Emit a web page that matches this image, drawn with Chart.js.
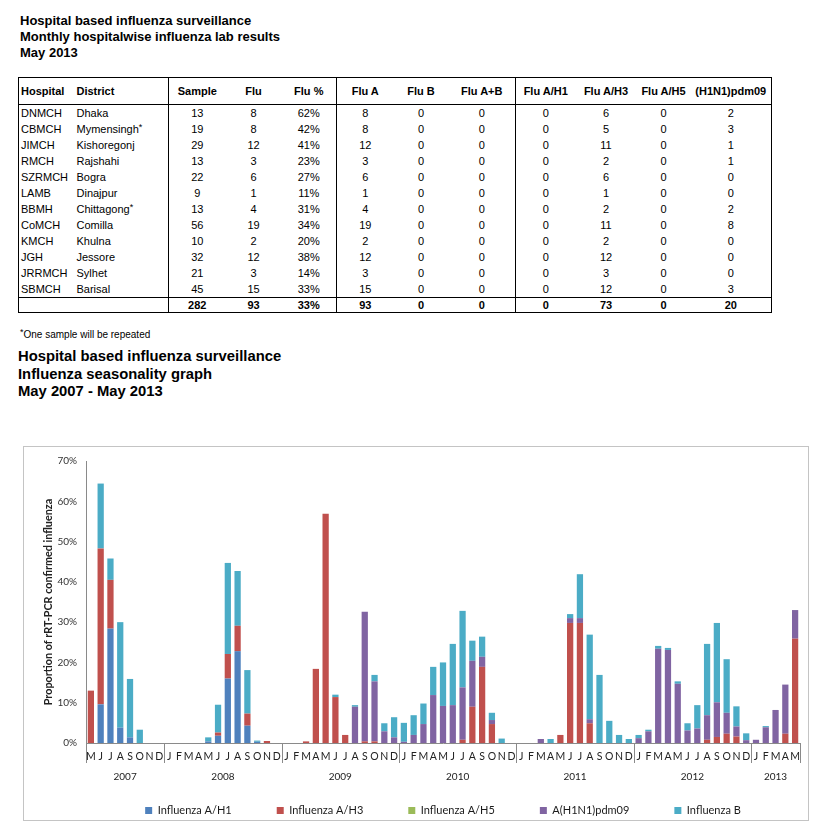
<!DOCTYPE html>
<html>
<head>
<meta charset="utf-8">
<script src="https://cdn.jsdelivr.net/npm/chart.js@4"></script>
<style>
  html, body { margin: 0; padding: 0; background: #fff; }
  body { font-family: "Liberation Sans", Arial, sans-serif; color: #000; }
  .page { position: relative; width: 835px; height: 828px; overflow: hidden; }
  .title1 { position: absolute; left: 20px; top: 12.5px; font-weight: bold; font-size: 13px; line-height: 16px; white-space: nowrap; }
  .title2 { position: absolute; left: 18px; top: 348px; font-weight: bold; font-size: 14.8px; line-height: 17.5px; white-space: nowrap; }
  .note { position: absolute; left: 20px; top: 328px; font-size: 10px; line-height: 14px; white-space: nowrap; }
  .note sup, td sup { font-size: 9px; vertical-align: 3px; line-height: 0; }
  table.res { position: absolute; left: 18px; top: 77px; border-collapse: collapse; table-layout: fixed; width: 753px; font-size: 11px; }
  table.res td, table.res th { padding: 0; white-space: nowrap; overflow: visible; text-align: center; }
  table.res th { font-weight: bold; height: 26px; border-bottom: 1px solid #000; border-top: 1.5px solid #000; }
  table.res tbody td { height: 16px; }
  table.res td.l, table.res th.l { text-align: left; padding-left: 2px; }
  table.res tr.tot td { font-weight: bold; height: 14px; border-top: 1px solid #000; border-bottom: 1px solid #000; }
  table.res .bl { border-left: 1px solid #000; }
  table.res .br { border-right: 1px solid #000; }
  .chartbox { position: absolute; left: 23px; top: 446px; width: 784px; height: 373px; border: 1px solid #c4c4c4; }
  #chart { position: absolute; left: 30px; top: 446px; }
</style>
</head>
<body>
<div class="page">
  <div class="title1">Hospital based influenza surveillance<br>Monthly hospitalwise influenza lab results<br>May 2013</div>
  <table class="res" id="res">
    <colgroup>
      <col style="width:56px"><col style="width:94px"><col style="width:57px"><col style="width:56px"><col style="width:55px"><col style="width:57px"><col style="width:55px"><col style="width:67px"><col style="width:60px"><col style="width:61px"><col style="width:54px"><col style="width:81px">
    </colgroup>
    <thead><tr id="hdr"></tr></thead>
    <tbody id="body"></tbody>
  </table>
  <div class="note"><sup>*</sup>One sample will be repeated</div>
  <div class="title2">Hospital based influenza surveillance<br>Influenza seasonality graph<br>May 2007 - May 2013</div>
  <div class="chartbox"></div>
  <canvas id="chart" width="778" height="380"></canvas>
</div>
<script>
// ---------- Table data ----------
const tableHeaders = ['Hospital','District','Sample','Flu','Flu %','Flu A','Flu B','Flu A+B','Flu A/H1','Flu A/H3','Flu A/H5','(H1N1)pdm09'];
const hospitals = ['DNMCH','CBMCH','JIMCH','RMCH','SZRMCH','LAMB','BBMH','CoMCH','KMCH','JGH','JRRMCH','SBMCH'];
const districts = ['Dhaka','Mymensingh','Kishoregonj','Rajshahi','Bogra','Dinajpur','Chittagong','Comilla','Khulna','Jessore','Sylhet','Barisal'];
const repeatMark = [false,true,false,false,false,false,true,false,false,false,false,false];
const samples = [13,19,29,13,22,9,13,56,10,32,21,45];
const fluCount = [8,8,12,3,6,1,4,19,2,12,3,15];
const fluPct = ['62%','42%','41%','23%','27%','11%','31%','34%','20%','38%','14%','33%'];
const fluA = [8,8,12,3,6,1,4,19,2,12,3,15];
const fluB = [0,0,0,0,0,0,0,0,0,0,0,0];
const fluAB = [0,0,0,0,0,0,0,0,0,0,0,0];
const fluAH1 = [0,0,0,0,0,0,0,0,0,0,0,0];
const fluAH3 = [6,5,11,2,6,1,2,11,2,12,3,12];
const fluAH5 = [0,0,0,0,0,0,0,0,0,0,0,0];
const pdm09 = [2,3,1,1,0,0,2,8,0,0,0,3];
const totals = ['282','93','33%','93','0','0','0','73','0','20'];

// ---------- Chart data (% of samples, May 2007 - May 2013) ----------
const monthLabels = [
  'M','J','J','A','S','O','N','D',
  'J','F','M','A','M','J','J','A','S','O','N','D',
  'J','F','M','A','M','J','J','A','S','O','N','D',
  'J','F','M','A','M','J','J','A','S','O','N','D',
  'J','F','M','A','M','J','J','A','S','O','N','D',
  'J','F','M','A','M','J','J','A','S','O','N','D',
  'J','F','M','A','M'
];
const yearNames = ['2007','2008','2009','2010','2011','2012','2013'];
const yearMonthCounts = [8,12,12,12,12,12,5];
const seriesNames = ['Influenza A/H1','Influenza A/H3','Influenza A/H5','A(H1N1)pdm09','Influenza B'];
const seriesColors = ['#4F81BD','#C0504D','#9BBB59','#8064A2','#4BACC6'];

const fluAH1Pct = [
  0,9.6,28.4,3.8,1.4,0,0,0,
  0,0,0,0,0.4,1.8,16.0,22.8,4.3,0.3,0,0,
  0,0,0,0,0,0,0,0,0,0,0,0,
  0,0,0,0,0,0,0,0,0,0,0,0,
  0,0,0,0,0,0,0,0,0,0,0,0,
  0,0,0,0,0,0,0,0,0,0,0,0,
  0,0,0,0,0
];
const fluAH3Pct = [
  13.0,38.7,12.1,0,0,0,0,0,
  0,0,0,0,0,0.8,6.1,6.3,3.0,0,0.5,0,
  0,0,0.4,18.4,56.9,11.4,2.0,0,0.4,0.4,0,0,
  0,0,0,0,0,0,0.8,9.0,18.9,4.7,0,0,
  0,0,0,0,2.0,29.8,29.8,4.9,0,0,0,0,
  0,0,0,0,0,0,0,0.8,1.5,2.3,1.6,0,
  0,0,0,2.3,25.9
];
const fluAH5Pct = [
  0,0,0,0,0,0,0,0,
  0,0,0,0,0,0,0,0,0,0,0,0,
  0,0,0,0,0,0,0,0,0,0,0,0,
  0,0,0,0,0,0,0,0,0,0,0,0,
  0,0,0,0,0,0,0,0,0,0,0,0,
  0,0,0,0,0,0,0,0,0,0,0,0,
  0,0,0,0,0
];
const pdm09Pct = [
  0,0,0,0,0,0,0,0,
  0,0,0,0,0,0,0,0,0,0,0,0,
  0,0,0,0,0,0,0,9.0,32.2,14.9,2.9,1.4,
  0.3,2.0,4.7,11.9,9.2,9.4,13.0,11.4,2.5,1.0,0,0,
  0,0,1.0,0,0,1.2,1.2,1.0,0,0,0,0,
  1.2,2.9,23.4,23.1,14.7,3.1,3.6,6.1,8.6,5.2,2.5,0.7,
  0.8,3.9,8.2,12.2,7.1
];
const fluBPct = [
  0,16.1,5.3,26.2,14.5,3.3,0,0,
  0,0,0,0,1.0,6.9,22.6,13.6,10.8,0.3,0,0,
  0,0,0,0,0,0.6,0,0.4,0,1.6,2.0,5.0,
  4.7,4.9,5.1,7.0,10.8,15.2,19.0,5.0,5.0,1.8,1.1,0,
  0,0,0,1.0,0,1.0,10.9,21.0,16.9,5.5,2.0,1.0,
  0.8,0.4,0.7,0.5,0.6,1.8,5.8,17.7,19.7,13.3,5.0,1.7,
  0,0.3,0,0,0
];
const yTickMax = 70, yTickStep = 10;
const yAxisTitle = 'Proportion of rRT-PCR confirmed influenza';

// ---------- Build table ----------
(function buildTable() {
  const hdr = document.getElementById('hdr');
  const blCols = [0, 2, 5, 8];
  tableHeaders.forEach((h, i) => {
    const th = document.createElement('th');
    th.textContent = h;
    if (i < 2) th.className = 'l';
    if (blCols.includes(i)) th.classList.add('bl');
    if (i === tableHeaders.length - 1) th.classList.add('br');
    hdr.appendChild(th);
  });
  const body = document.getElementById('body');
  const addRow = (cells, cls) => {
    const tr = document.createElement('tr');
    if (cls) tr.className = cls;
    cells.forEach((c, i) => {
      const td = document.createElement('td');
      td.innerHTML = c;
      if (i < 2) td.classList.add('l');
      if (blCols.includes(i)) td.classList.add('bl');
      if (i === cells.length - 1) td.classList.add('br');
      tr.appendChild(td);
    });
    body.appendChild(tr);
  };
  hospitals.forEach((h, r) => {
    addRow([h, districts[r] + (repeatMark[r] ? '<sup>*</sup>' : ''), samples[r], fluCount[r], fluPct[r], fluA[r], fluB[r], fluAB[r], fluAH1[r], fluAH3[r], fluAH5[r], pdm09[r]]);
  });
  addRow(['', ''].concat(totals), 'tot');
})();

// ---------- Chart ----------
const seriesData = [fluAH1Pct, fluAH3Pct, fluAH5Pct, pdm09Pct, fluBPct];
const yearCenters = [];
const yearBounds = [0];
(function () {
  let start = 0;
  yearMonthCounts.forEach(c => {
    yearCenters.push(start + (c - 1) / 2);
    start += c;
    yearBounds.push(start);
  });
})();

Chart.defaults.font.family = 'Lato, "Liberation Sans", sans-serif';
Chart.defaults.color = '#333';

const yearSeparators = {
  id: 'yearSeparators',
  afterDraw(chart) {
    const xs = chart.scales.x2;
    const ca = chart.chartArea;
    const c = chart.ctx;
    c.save();
    c.strokeStyle = '#8a8a8a';
    c.lineWidth = 1;
    yearBounds.forEach(b => {
      const px = Math.round(xs.getPixelForValue(b - 0.5)) + 0.5;
      c.beginPath();
      c.moveTo(px, ca.bottom);
      c.lineTo(px, ca.bottom + 20);
      c.stroke();
    });
    c.restore();
  }
};

const legendGap = '\u2003\u2003\u2003\u2003';

new Chart(document.getElementById('chart'), {
  type: 'bar',
  data: {
    labels: monthLabels,
    datasets: seriesNames.map((n, i) => ({
      label: n,
      data: seriesData[i],
      backgroundColor: seriesColors[i],
      borderWidth: 0,
      barPercentage: 0.64,
      categoryPercentage: 1.0,
      xAxisID: 'x',
      yAxisID: 'y'
    }))
  },
  options: {
    responsive: false,
    animation: false,
    layout: { padding: { top: 11, right: 8, left: 0, bottom: 0 } },
    plugins: {
      tooltip: { enabled: false },
      legend: {
        position: 'bottom',
        fullSize: false,
        labels: {
          boxWidth: 7, boxHeight: 7, padding: 12,
          font: { size: 11 }, color: '#1a1a1a',
          generateLabels(chart) {
            const items = Chart.defaults.plugins.legend.labels.generateLabels(chart);
            items.forEach((it, i) => { if (i < items.length - 1) it.text = it.text + legendGap; });
            return items;
          }
        }
      }
    },
    scales: {
      x: {
        stacked: true,
        weight: 0,
        grid: { display: false, drawTicks: false },
        border: { display: true, color: '#8a8a8a' },
        ticks: { autoSkip: false, maxRotation: 0, padding: 7, font: { size: 10.5 }, color: '#222' },
        afterFit(s) { s.height = 24; }
      },
      x2: {
        type: 'linear',
        position: 'bottom',
        weight: 1,
        offset: false,
        min: -0.5, max: monthLabels.length - 0.5,
        grid: { display: false, drawTicks: false, offset: false },
        border: { display: false },
        afterBuildTicks(s) { s.ticks = yearCenters.map(v => ({ value: v })); },
        ticks: { autoSkip: false, maxRotation: 0, padding: 4, font: { size: 10 }, color: '#222',
                 callback: (v, i) => yearNames[i] },
        afterFit(s) { s.height = 26; }
      },
      y: {
        stacked: true,
        min: 0, max: yTickMax,
        grid: { display: false, drawTicks: false },
        border: { display: true, color: '#8a8a8a' },
        ticks: { stepSize: yTickStep, padding: 9, font: { size: 10 }, color: '#333', callback: v => v + '%' },
        title: { display: true, text: yAxisTitle, padding: { top: 12, bottom: 0 }, font: { size: 10.8, weight: 'bold' }, color: '#222' },
        afterFit(s) { s.width = 56; }
      }
    }
  },
  plugins: [yearSeparators]
});
</script>
</body>
</html>
